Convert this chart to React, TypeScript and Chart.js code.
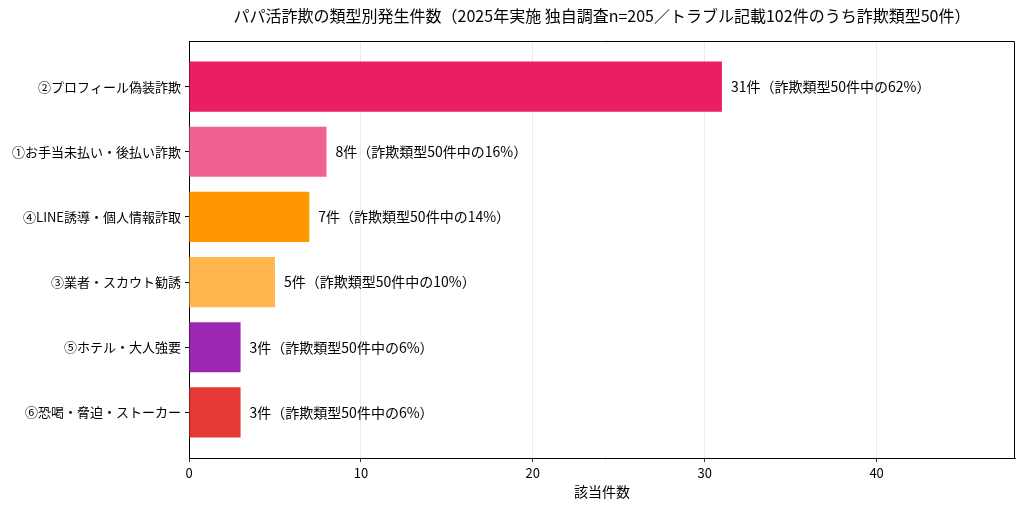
import React, { useEffect, useRef } from 'react';
import { Chart, registerables } from 'chart.js';

Chart.register(...registerables);

const categories = [
    '②プロフィール偽装詐欺',
    '①お手当未払い・後払い詐欺',
    '④LINE誘導・個人情報詐取',
    '③業者・スカウト勧誘',
    '⑤ホテル・大人強要',
    '⑥恐喝・脅迫・ストーカー',
];
const counts = [31, 8, 7, 5, 3, 3];
const barColors = ['#E91E63', '#F06292', '#FF9800', '#FFB74D', '#9C27B0', '#E53935'];
const fraudTotal = 50;
const xTicks = [0, 10, 20, 30, 40];
const titleText = 'パパ活詐欺の類型別発生件数（2025年実施 独自調査n=205／トラブル記載102件のうち詐欺類型50件）';
const xTitle = '該当件数';

const FONT = "'Noto Sans CJK JP', 'Noto Sans', sans-serif";

const App: React.FC = () => {
    const chartRef = useRef<HTMLCanvasElement | null>(null);

    useEffect(() => {
        document.body.style.margin = '0';
        if (!chartRef.current) return;
        const ctx = chartRef.current.getContext('2d');
        if (!ctx) return;

        // frame + title + value labels
        const decorations = {
            id: 'decorations',
            afterDatasetsDraw(chart: any) {
                const c = chart.ctx;
                const { left, right, top, bottom } = chart.chartArea;
                c.save();
                c.strokeStyle = '#000';
                c.lineWidth = 1;
                c.beginPath();
                c.moveTo(left, top + 0.5);
                c.lineTo(right - 0.5, top + 0.5);
                c.lineTo(right - 0.5, bottom);
                c.stroke();

                c.fillStyle = '#000';
                c.font = `16px ${FONT}`;
                c.textAlign = 'center';
                c.textBaseline = 'middle';
                c.fillText(titleText, (left + right) / 2, 16);

                c.font = `14px ${FONT}`;
                c.textAlign = 'left';
                const meta = chart.getDatasetMeta(0);
                meta.data.forEach((bar: any, i: number) => {
                    const v = counts[i];
                    const pct = Math.round((v / fraudTotal) * 100);
                    c.fillText(`${v}件（詐欺類型${fraudTotal}件中の${pct}%）`, bar.x + 9, bar.y);
                });
                c.restore();
            },
        };

        const chart = new Chart(ctx, {
            type: 'bar',
            data: {
                datasets: [{
                    data: counts.map((v, i) => ({ x: v, y: i })) as any,
                    backgroundColor: barColors,
                    borderWidth: 0,
                    barPercentage: 0.77,
                    categoryPercentage: 1,
                }],
            },
            options: {
                indexAxis: 'y',
                animation: false,
                responsive: false,
                layout: { padding: { top: 41, right: 9, left: 0, bottom: 0 } },
                plugins: {
                    legend: { display: false },
                    tooltip: { enabled: false },
                    title: { display: false },
                },
                scales: {
                    x: {
                        type: 'linear',
                        min: 0,
                        max: 48.05,
                        afterBuildTicks: (s: any) => { s.ticks = xTicks.map(v => ({ value: v })); },
                        afterFit: (s: any) => { s.height = 49; },
                        grid: { color: '#e6e6e6', lineWidth: 0.8, tickColor: '#000', tickLength: 4 },
                        border: { color: '#000', width: 1 },
                        ticks: { color: '#000', padding: 3, autoSkip: false, maxRotation: 0, font: { family: FONT, size: 13 } },
                        title: { display: true, text: xTitle, color: '#000', font: { family: FONT, size: 14 }, padding: { top: 0, bottom: 7 } },
                    },
                    y: {
                        type: 'linear',
                        reverse: true,
                        offset: false,
                        min: -0.7,
                        max: 5.7,
                        afterBuildTicks: (s: any) => { s.ticks = categories.map((_, i) => ({ value: i })); },
                        afterFit: (s: any) => { s.width = 189; },
                        grid: { offset: false, drawOnChartArea: false, tickColor: '#000', tickLength: 4 },
                        border: { color: '#000', width: 1 },
                        ticks: {
                            color: '#000',
                            padding: 4,
                            autoSkip: false,
                            font: { family: FONT, size: 13 },
                            callback: (v: any) => categories[v as number] ?? '',
                        },
                    },
                },
            },
            plugins: [decorations],
        });

        return () => {
            chart.destroy();
        };
    }, []);

    return (
        <div style={{ width: 1024, height: 507 }}>
            <canvas ref={chartRef} width={1024} height={507} style={{ width: 1024, height: 507 }}></canvas>
        </div>
    );
};

export default App;
